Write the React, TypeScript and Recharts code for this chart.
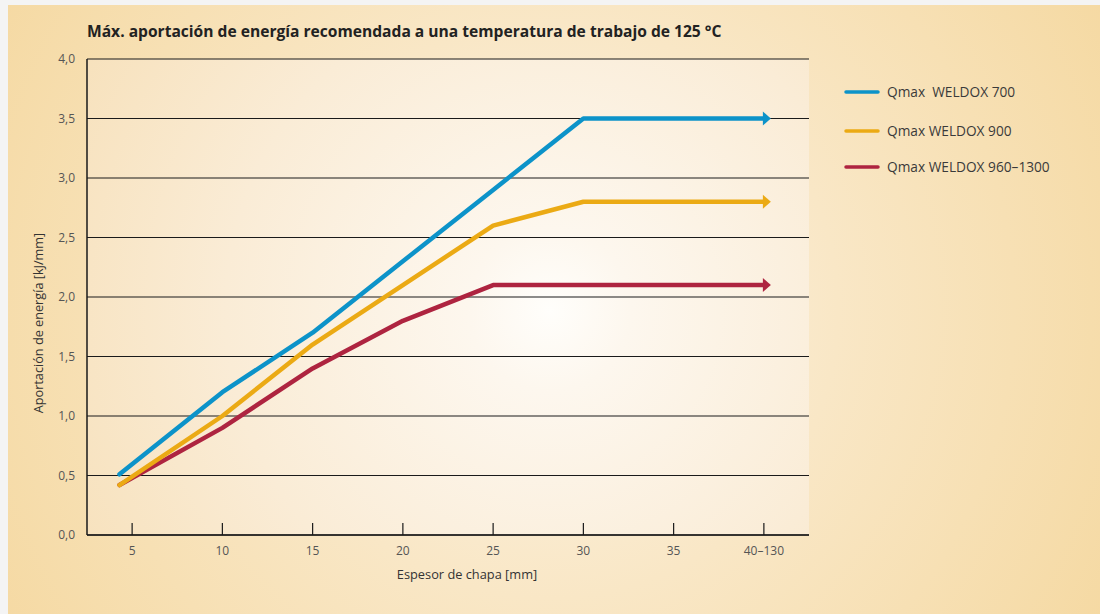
import React from 'react';
import { LineChart, Line, XAxis, YAxis, CartesianGrid } from 'recharts';

const thickness = [4.3, 10, 15, 20, 25, 30, 40];
const weldox700 = [0.51, 1.2, 1.7, 2.3, 2.9, 3.5, 3.5];
const weldox900 = [0.42, 1.0, 1.6, 2.1, 2.6, 2.8, 2.8];
const weldox960 = [0.42, 0.9, 1.4, 1.8, 2.1, 2.1, 2.1];

const xTicks = [5, 10, 15, 20, 25, 30, 35, 40];
const xTickLabels = ['5', '10', '15', '20', '25', '30', '35', '40–130'];
const yTicks = [0, 0.5, 1, 1.5, 2, 2.5, 3, 3.5, 4];

const seriesNames = ['Qmax\u00A0 WELDOX 700', 'Qmax WELDOX 900', 'Qmax WELDOX 960–1300'];
const seriesColors = ['#0c93c9', '#ebaa14', '#ae2440'];

const title = 'Máx. aportación de energía recomendada a una temperatura de trabajo de 125 °C';
const xTitle = 'Espesor de chapa [mm]';
const yTitle = 'Aportación de energía [kJ/mm]';

const data = thickness.map((t, i) => ({
  x: t,
  s700: weldox700[i],
  s900: weldox900[i],
  s960: weldox960[i],
}));

const FONT = '"Open Sans", "Noto Sans", sans-serif';

const makeArrowDot = (color: string) => (props: any) => {
  const { cx, cy, index } = props;
  if (index !== data.length - 1) return <g key={`d-${index}`} />;
  return (
    <path
      key={`d-${index}`}
      d={`M${cx - 1},${cy - 7} L${cx + 7},${cy} L${cx - 1},${cy + 7} Z`}
      fill={color}
      stroke="none"
    />
  );
};

const XTick = (props: any) => {
  const { x, y, payload } = props;
  const idx = xTicks.indexOf(payload.value);
  return (
    <g>
      <line x1={x} x2={x} y1={y} y2={y - 12} stroke="#1a1a1a" strokeWidth={1.2} />
      <text x={x} y={y + 20} textAnchor="middle" fill="#555" fontSize={12} fontFamily={FONT}>
        {idx >= 0 ? xTickLabels[idx] : payload.value}
      </text>
    </g>
  );
};

export default function App() {
  return (
    <div
      style={{
        position: 'absolute',
        left: 8,
        top: 5,
        width: 1092,
        height: 609,
        overflow: 'hidden',
        background:
          'radial-gradient(circle 640px at 542px 305px, #fdf4e6 0%, #f9e7c6 45%, #f5d9a2 100%)',
        fontFamily: FONT,
      }}
    >
      <style>{'html,body{margin:0;overflow:hidden;background:#f4f4f4;}'}</style>
      <svg width={0} height={0} style={{ position: 'absolute' }}>
        <defs>
          <radialGradient id="plotGrad" gradientUnits="userSpaceOnUse" cx={542} cy={305} r={540}>
            <stop offset="0" stopColor="#fffefb" />
            <stop offset="0.15" stopColor="#fdf7ee" />
            <stop offset="0.6" stopColor="#faecd6" />
            <stop offset="1" stopColor="#f7e1bb" />
          </radialGradient>
        </defs>
      </svg>
      <LineChart
        width={1092}
        height={609}
        data={data}
        margin={{ top: 54, right: 291, left: 39, bottom: 49 }}
      >
        <CartesianGrid
          vertical={false}
          stroke="#1a1a1a"
          strokeWidth={1.2}
          fill="url(#plotGrad)"
          fillOpacity={1}
        />
        <XAxis
          dataKey="x"
          type="number"
          domain={[2.5, 42.5]}
          ticks={xTicks}
          interval={0}
          height={30}
          tickSize={0}
          tickMargin={0}
          tickLine={false}
          axisLine={{ stroke: '#1a1a1a', strokeWidth: 1.5 }}
          tick={<XTick />}
          allowDataOverflow
        />
        <YAxis
          type="number"
          domain={[0, 4]}
          ticks={yTicks}
          interval={0}
          width={40}
          tickSize={0}
          tickMargin={12}
          tickLine={false}
          axisLine={{ stroke: '#1a1a1a', strokeWidth: 1.5 }}
          tickFormatter={(v: number) => v.toFixed(1).replace('.', ',')}
          tick={{ fill: '#555', fontSize: 12, fontFamily: FONT }}
        />
        <Line
          dataKey="s960"
          type="linear"
          stroke={seriesColors[2]}
          strokeWidth={4.5}
          strokeLinecap="round"
          strokeLinejoin="round"
          dot={makeArrowDot(seriesColors[2])}
          activeDot={false}
          isAnimationActive={false}
        />
        <Line
          dataKey="s900"
          type="linear"
          stroke={seriesColors[1]}
          strokeWidth={4.5}
          strokeLinecap="round"
          strokeLinejoin="round"
          dot={makeArrowDot(seriesColors[1])}
          activeDot={false}
          isAnimationActive={false}
        />
        <Line
          dataKey="s700"
          type="linear"
          stroke={seriesColors[0]}
          strokeWidth={4.5}
          strokeLinecap="round"
          strokeLinejoin="round"
          dot={makeArrowDot(seriesColors[0])}
          activeDot={false}
          isAnimationActive={false}
        />
      </LineChart>
      <svg
        width={1092}
        height={609}
        style={{ position: 'absolute', left: 0, top: 0, pointerEvents: 'none' }}
      >
        <text x={79} y={32} fontSize={15.6} fontWeight={700} fill="#222" fontFamily={FONT}>
          {title}
        </text>
        <text
          x={30}
          y={318}
          transform="rotate(-90 30 318)"
          textAnchor="middle"
          dominantBaseline="central"
          fontSize={12.7}
          fill="#333"
          fontFamily={FONT}
        >
          {yTitle}
        </text>
        <text x={459} y={574} textAnchor="middle" fontSize={12.8} fill="#333" fontFamily={FONT}>
          {xTitle}
        </text>
        {seriesNames.map((name, i) => {
          const ly = [87, 126, 162][i];
          return (
            <g key={name}>
              <line x1={838} x2={870} y1={ly} y2={ly} stroke={seriesColors[i]} strokeWidth={3.5} strokeLinecap="round" />
              <text x={879} y={ly + 4.5} fontSize={13.7} fill="#3a3a3a" fontFamily={FONT}>
                {name}
              </text>
            </g>
          );
        })}
      </svg>
    </div>
  );
}
